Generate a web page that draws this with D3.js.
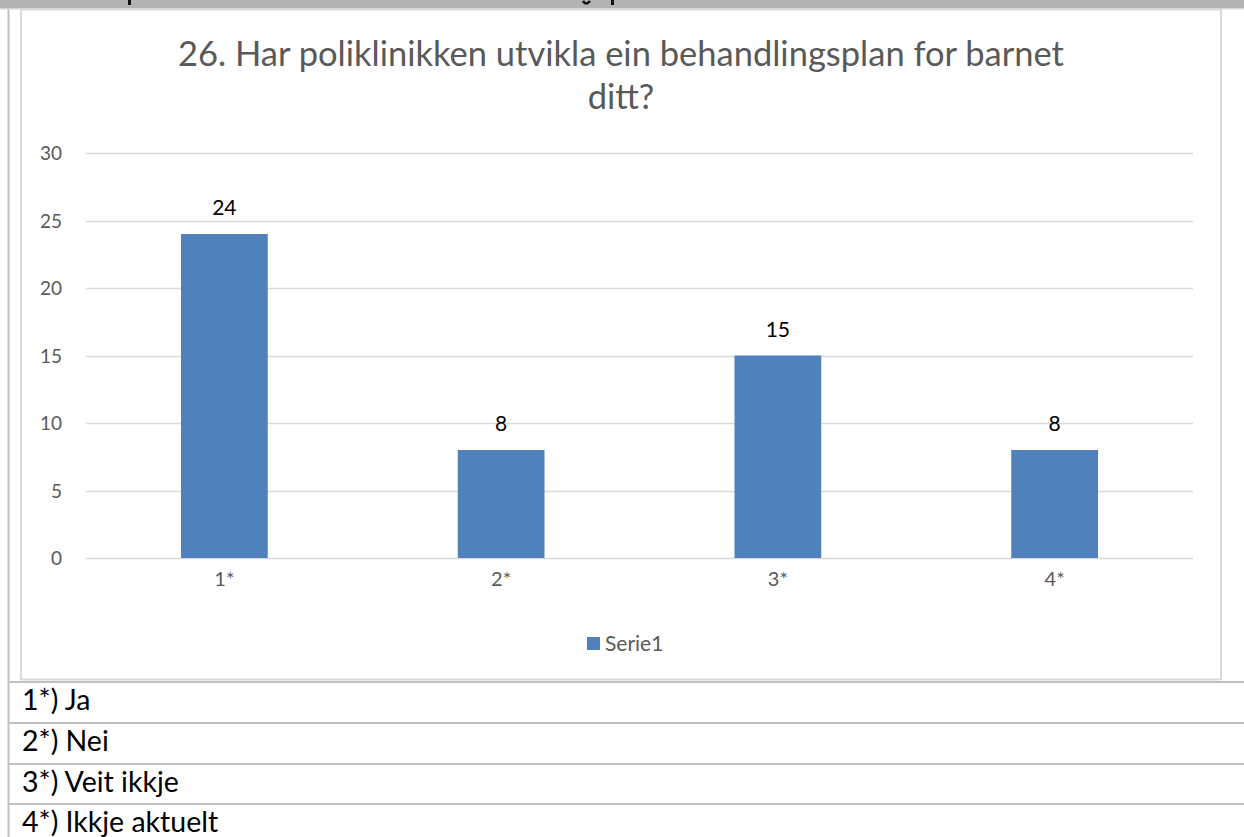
<!DOCTYPE html>
<html>
<head>
<meta charset="utf-8">
<title>26. Har poliklinikken utvikla ein behandlingsplan</title>
<script src="https://cdnjs.cloudflare.com/ajax/libs/d3/7.8.5/d3.min.js"></script>
<style>
body { margin: 0; background: #fff; }
svg { display: block; font-family: Lato, "Open Sans", sans-serif; }
.grid line { stroke: #d9d9d9; stroke-width: 1.5; }
.axis path, .axis line { display: none; }
.axis text { fill: #595959; font-size: 19px; font-family: Lato, sans-serif; }
.axis.x text { font-size: 20px; }
</style>
</head>
<body>
<svg id="vis" width="1244" height="837"></svg>
<script>
// data
var titleLines = ["26. Har poliklinikken utvikla ein behandlingsplan for barnet", "ditt?"];
var categories = ["1*", "2*", "3*", "4*"];
var values     = [24, 8, 15, 8];
var seriesName = "Serie1";
var yTicks     = [0, 5, 10, 15, 20, 25, 30];
var rowLabels  = ["1*) Ja", "2*) Nei", "3*) Veit ikkje", "4*) Ikkje aktuelt"];

var svg = d3.select("#vis");
var W = 1244, H = 837;

// top band of page (cut off heading)
svg.append("rect").attr("x", 0).attr("y", 0).attr("width", W).attr("height", 8).attr("fill", "#b3b3b3");
svg.append("rect").attr("x", 0).attr("y", 8).attr("width", W).attr("height", 1.5).attr("fill", "#d6d6d6");
[[128, 3], [611, 3]].forEach(function (m) {
  svg.append("rect").attr("x", m[0]).attr("y", 0).attr("width", m[1]).attr("height", 5).attr("fill", "#111");
});
svg.append("path").attr("d", "M583,1 Q586,6 590,1").attr("fill", "none").attr("stroke", "#111").attr("stroke-width", 2.5);

// table lines
svg.append("rect").attr("x", 7.5).attr("y", 9).attr("width", 2).attr("height", H).attr("fill", "#c0c0c0");
var rowTops = [681, 722, 763, 803];
rowTops.forEach(function (t) {
  svg.append("rect").attr("x", 8).attr("y", t).attr("width", W).attr("height", 2).attr("fill", "#c0c0c0");
});

// chart frame
svg.append("rect").attr("x", 21).attr("y", 9.5).attr("width", 1200).attr("height", 670)
  .attr("fill", "#fff").attr("stroke", "#d9d9d9").attr("stroke-width", 2);

// title
var title = svg.append("text").attr("text-anchor", "middle").attr("fill", "#595959")
  .style("font-size", "34.5px");
titleLines.forEach(function (l, i) {
  title.append("tspan").attr("x", 621).attr("y", 66 + i * 43).text(l);
});

// scales
var plot = { left: 86, right: 1193, top: 153, bottom: 558 };
var x = d3.scaleBand().domain(categories).range([plot.left, plot.right]).padding(0);
var y = d3.scaleLinear().domain([0, 30]).range([plot.bottom, plot.top]);
var barW = x.bandwidth() / 3.19; // gap width 219%

// gridlines
svg.append("g").attr("class", "grid")
  .selectAll("line").data(yTicks).enter().append("line")
  .attr("x1", plot.left).attr("x2", plot.right)
  .attr("y1", function (d) { return Math.round(y(d)) + 0.5; })
  .attr("y2", function (d) { return Math.round(y(d)) + 0.5; });

// axes
svg.append("g").attr("class", "axis y")
  .attr("transform", "translate(" + 62 + ",0)")
  .call(d3.axisLeft(y).tickValues(yTicks).tickSize(0).tickPadding(0))
  .selectAll("text").attr("dy", "0.35em");

svg.append("g").attr("class", "axis x")
  .attr("transform", "translate(0," + 572 + ")")
  .call(d3.axisBottom(x).tickSize(0).tickPadding(0))
  .selectAll("text").attr("dy", "0.71em");

// bars
svg.append("g").selectAll("rect").data(values).enter().append("rect")
  .attr("x", function (d, i) { return x(categories[i]) + x.bandwidth() / 2 - barW / 2; })
  .attr("y", function (d) { return y(d); })
  .attr("width", barW)
  .attr("height", function (d) { return y(0) - y(d); })
  .attr("fill", "#4f81bd");

// data labels
svg.append("g").selectAll("text").data(values).enter().append("text")
  .attr("x", function (d, i) { return x(categories[i]) + x.bandwidth() / 2; })
  .attr("y", function (d) { return y(d) - 19; })
  .attr("text-anchor", "middle")
  .attr("fill", "#000")
  .style("font-size", "21px")
  .text(function (d) { return d; });

// legend
var lg = svg.append("g").attr("transform", "translate(587,637)");
lg.append("rect").attr("width", 13).attr("height", 13).attr("fill", "#4f81bd");
lg.append("text").attr("x", 18).attr("y", 13.5).attr("fill", "#595959").style("font-size", "21px").text(seriesName);

// rows of the table
svg.append("g").selectAll("text").data(rowLabels).enter().append("text")
  .attr("x", 22)
  .attr("y", function (d, i) { return rowTops[i] + 29; })
  .attr("fill", "#000")
  .style("font-size", "28.5px")
  .text(function (d) { return d; });
</script>
</body>
</html>
